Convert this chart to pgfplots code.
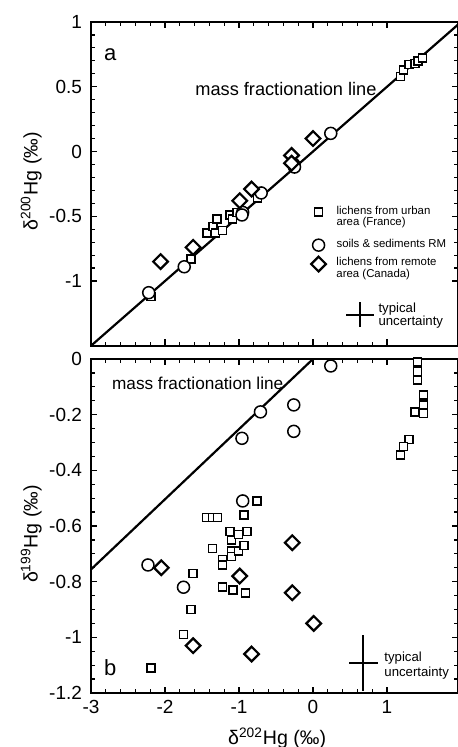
\documentclass[border=0pt]{standalone}
\usepackage{fontspec}
\setmainfont{Liberation Sans}
\usepackage{pgfplots}
\pgfplotsset{compat=1.18}
\pgfplotsset{
  panel/.style={
    scale only axis, anchor=south west,
    width=183.52pt,
    xmin=-3, xmax=1.96,
    xtick={-3,-2,-1,0,1}, minor x tick num=4,
    tick align=inside,
    major tick length=3.2pt, minor tick length=1.8pt,
    axis line style={line width=1pt},
    every tick/.append style={line width=0.6pt, black},
    tick label style={font=\fontsize{9.5}{11}\selectfont},
    yticklabel style={xshift=-1pt},
    /pgf/number format/assume math mode=true,
    clip=false,
  },
  hid/.style={hide axis, scale only axis, anchor=south west,
    width=183.52pt, height=161.9pt, at={(45.5pt,200.6pt)},
    xmin=-3, xmax=1.96, ymin=-1.5, ymax=1,
    legend image code/.code={\draw[##1] plot coordinates {(0pt,0pt)};},
  },
  sq/.style={only marks, mark=square*, mark size=2pt, mark options={line width=0.75pt, fill=white, draw=black}},
  ci/.style={only marks, mark=*, mark size=3pt, mark options={line width=0.75pt, fill=white, draw=black}},
  di/.style={only marks, mark=square*, mark size=2.6pt, mark options={rotate=45, line width=1.1pt, fill=white, draw=black}},
  unc/.style={black, mark=none, draw=none, error bars/.cd, x dir=both, x explicit, y dir=both, y explicit, error mark=none, error bar style={line width=0.9pt}},
}
\begin{document}
\begin{tikzpicture}
% ---------------- top panel ----------------
\begin{axis}[panel, at={(45.5pt,200.6pt)}, height=161.9pt,
  ymin=-1.5, ymax=1, ytick={-1,-0.5,0,0.5,1}, minor y tick num=4,
  xticklabels={},
  ylabel={δ\textsuperscript{200}Hg (‰)},
  every axis y label/.style={at={(axis description cs:-0.163,0.508)}, rotate=90, anchor=center, font=\fontsize{9.8}{11}\selectfont},
]
\addplot[black, line width=1.1pt] coordinates {(-3,-1.5) (1.96,0.98)};
\addplot[sq] coordinates {
(-2.19,-1.12) (-1.65,-0.83) (-1.43,-0.63) (-1.35,-0.58) (-1.32,-0.63) (-1.30,-0.52)
(-1.22,-0.61) (-1.12,-0.49) (-1.09,-0.52) (-1.03,-0.47) (-0.75,-0.36)
(1.18,0.58) (1.22,0.63) (1.30,0.67) (1.38,0.68) (1.42,0.70) (1.48,0.72)};
\addplot[ci] coordinates {
(-2.22,-1.09) (-1.74,-0.89) (-0.95,-0.47) (-0.96,-0.49) (-0.70,-0.32)
(-0.26,-0.10) (-0.25,-0.12) (0.24,0.14)};
\addplot[di] coordinates {
(-2.06,-0.85) (-1.62,-0.74) (-0.99,-0.38) (-0.83,-0.29) (-0.29,-0.03) (-0.29,-0.09) (0.0,0.10)};
\addplot[unc] coordinates {(0.63,-1.26) +- (0.19,0.096)};
\node[font=\fontsize{11}{13}\selectfont] at (axis cs:-2.74,0.75) {a};
\node[anchor=west, inner sep=0pt, font=\fontsize{9.1}{11}\selectfont] at (axis cs:-1.595,0.485) {mass fractionation line};
\node[anchor=west, inner sep=0pt, align=left, font=\fontsize{6.6}{6.5}\selectfont] at (axis cs:0.88,-1.27) {typical\\uncertainty};
\end{axis}
% legends
\begin{axis}[hid, legend style={draw=none, fill=none, inner sep=0pt, at={(axis cs:0.016,-0.469)}, anchor=west,
   font=\fontsize{5.7}{5.6}\selectfont, legend cell align=left, column sep=7pt, nodes={inner sep=0pt}}]
\addlegendimage{sq}
\addlegendentry{\raisebox{-0.3em}[0pt][0pt]{\begin{tabular}[t]{@{}l@{}}lichens from urban\\area (France)\end{tabular}}}
\end{axis}
\begin{axis}[hid, legend style={draw=none, fill=none, inner sep=0pt, at={(axis cs:-0.011,-0.723)}, anchor=west,
   font=\fontsize{5.7}{5.6}\selectfont, legend cell align=left, column sep=6pt, nodes={inner sep=0pt}}]
\addlegendimage{ci}
\addlegendentry{\raisebox{-0.3em}[0pt][0pt]{soils \& sediments RM}}
\end{axis}
\begin{axis}[hid, legend style={draw=none, fill=none, inner sep=0pt, at={(axis cs:-0.03,-0.869)}, anchor=west,
   font=\fontsize{5.7}{5.6}\selectfont, legend cell align=left, column sep=5.3pt, nodes={inner sep=0pt}}]
\addlegendimage{di}
\addlegendentry{\raisebox{-0.3em}[0pt][0pt]{\begin{tabular}[t]{@{}l@{}}lichens from remote\\area (Canada)\end{tabular}}}
\end{axis}
% ---------------- bottom panel ----------------
\begin{axis}[panel, at={(45.5pt,27pt)}, height=167pt,
  ymin=-1.2, ymax=0, ytick={-1.2,-1,-0.8,-0.6,-0.4,-0.2,0}, minor y tick num=3,
  ylabel={δ\textsuperscript{199}Hg (‰)},
  xlabel={δ\textsuperscript{202}Hg (‰)},
  every axis y label/.style={at={(axis description cs:-0.163,0.476)}, rotate=90, anchor=center, font=\fontsize{9.8}{11}\selectfont},
  every axis x label/.style={at={(axis description cs:0.507,-0.135)}, anchor=center, font=\fontsize{9.8}{11}\selectfont},
]
\addplot[black, line width=1.1pt] coordinates {(-3,-0.756) (0,0)};
\addplot[sq] coordinates {
(-2.19,-1.11) (-1.75,-0.99) (-1.65,-0.90) (-1.62,-0.77) (-1.44,-0.57) (-1.36,-0.57) (-1.29,-0.57)
(-1.36,-0.68) (-1.22,-0.72) (-1.22,-0.74) (-1.22,-0.82) (-1.10,-0.65) (-1.10,-0.69) (-1.10,-0.71)
(-1.12,-0.62) (-1.01,-0.63) (-1.01,-0.69) (-0.93,-0.67) (-0.89,-0.62) (-0.93,-0.56) (-0.76,-0.51)
(-1.08,-0.83) (-0.91,-0.84)
(1.41,-0.01) (1.41,-0.045) (1.41,-0.075) (1.49,-0.13) (1.49,-0.165) (1.49,-0.195) (1.38,-0.19)
(1.30,-0.29) (1.22,-0.315) (1.18,-0.345)};
\addplot[ci] coordinates {
(0.24,-0.025) (-0.71,-0.19) (-0.96,-0.285) (-0.26,-0.165) (-0.26,-0.26) (-0.95,-0.51) (-2.23,-0.74) (-1.75,-0.82)};
\addplot[di] coordinates {
(-2.05,-0.75) (-1.62,-1.03) (-0.99,-0.78) (-0.83,-1.06) (-0.28,-0.66) (-0.28,-0.84) (0.01,-0.95)};
\addplot[unc] coordinates {(0.68,-1.093) +- (0.2,0.10)};
\node[font=\fontsize{11}{13}\selectfont] at (axis cs:-2.74,-1.108) {b};
\node[anchor=west, inner sep=0pt, font=\fontsize{8.6}{10}\selectfont] at (axis cs:-2.72,-0.086) {mass fractionation line};
\node[anchor=west, inner sep=0pt, align=left, font=\fontsize{6.6}{7.5}\selectfont] at (axis cs:0.96,-1.101) {typical\\uncertainty};
\end{axis}
\pgfresetboundingbox
\path (0pt,0pt) rectangle (228.5pt,373.5pt);
\end{tikzpicture}
\end{document}
